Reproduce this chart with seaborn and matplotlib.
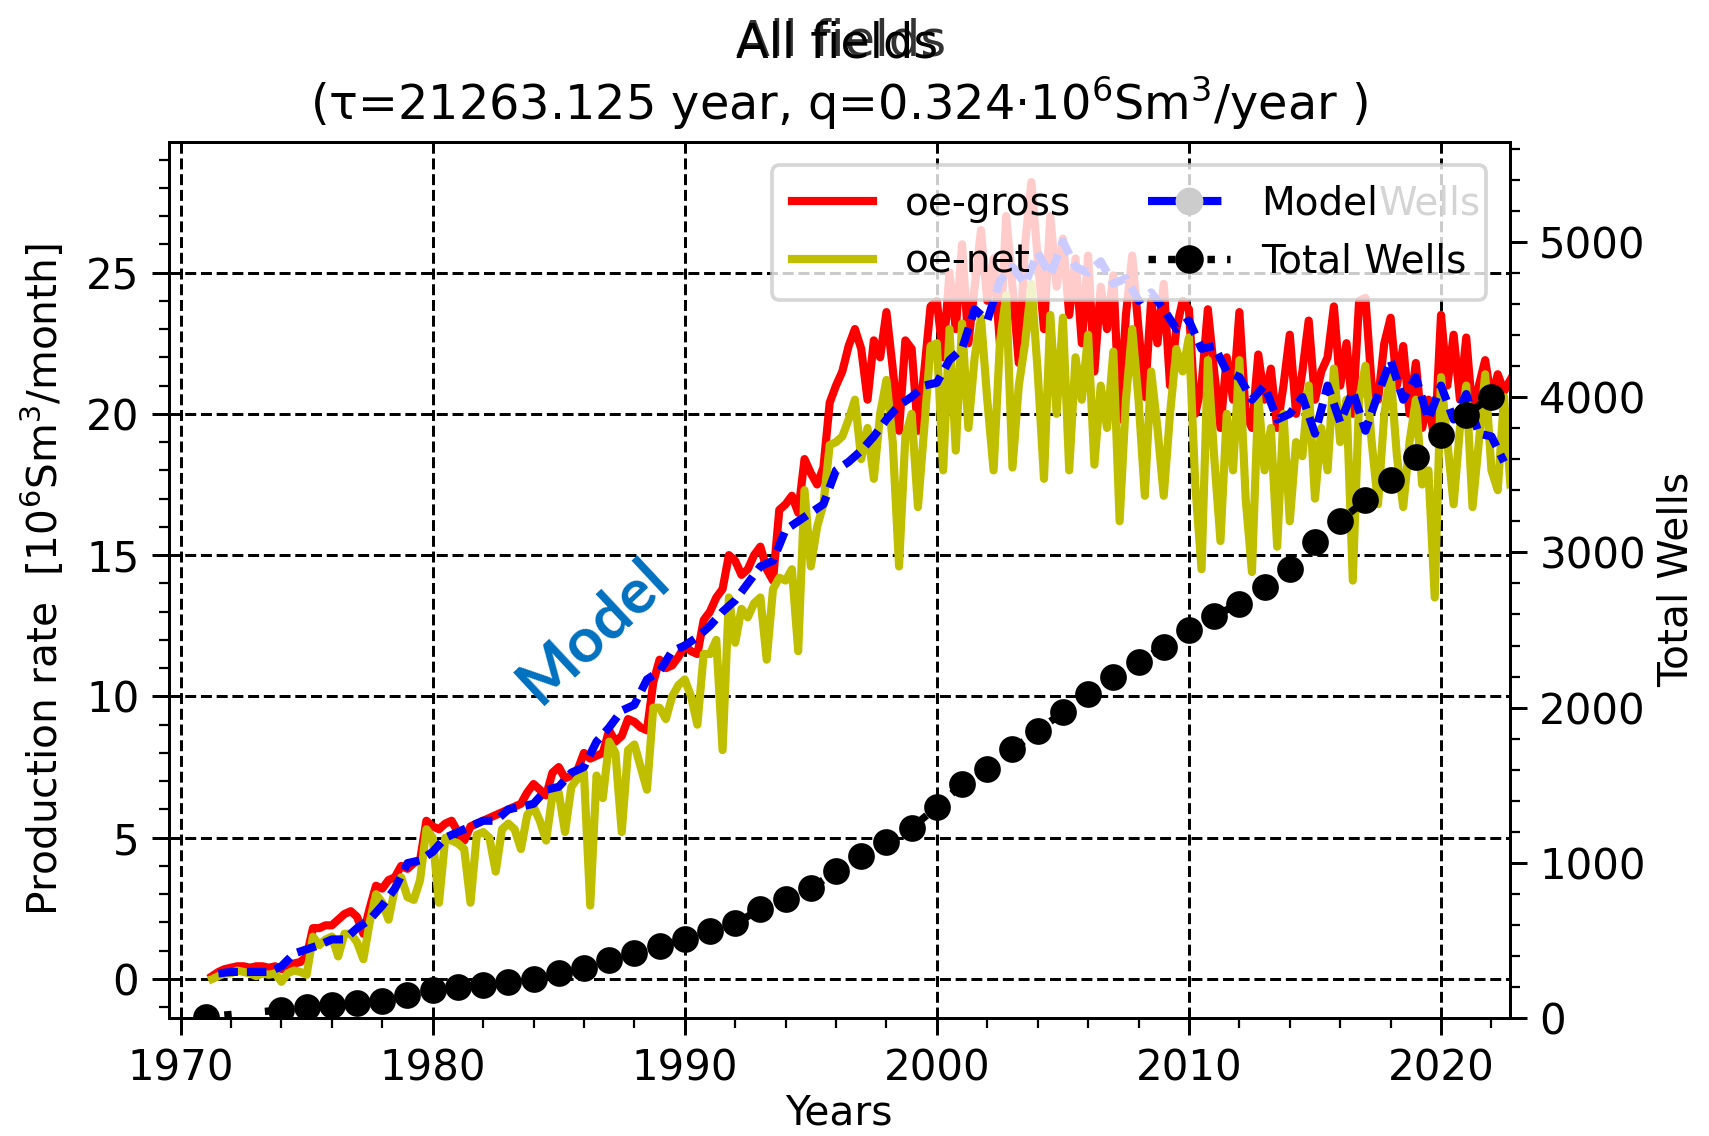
import numpy as np
import pandas as pd
import matplotlib
matplotlib.use("Agg")
import matplotlib.pyplot as plt
from matplotlib.lines import Line2D
from matplotlib.ticker import MultipleLocator
import seaborn as sns

# ---------------- data (quarterly production, 10^6 Sm3/month) ----------------
quarter_start = 1971.25
gross = [
    0.1, 0.25, 0.35,                 # 1971
    0.4, 0.45, 0.45, 0.4,            # 1972
    0.45, 0.45, 0.4, 0.45,           # 1973
    0.35, 0.5, 0.55, 0.6,            # 1974
    0.8, 1.8, 1.8, 1.9,              # 1975
    1.9, 2.1, 2.3, 2.4,              # 1976
    2.2, 1.6, 2.5, 3.3,              # 1977
    3.2, 3.5, 3.6, 4.0,              # 1978
    3.9, 4.1, 4.2, 5.6,              # 1979
    5.4, 5.3, 5.5, 5.6,              # 1980
    5.2, 4.9, 5.4, 5.5,              # 1981
    5.6, 5.7, 5.8, 5.9,              # 1982
    6.0, 6.1, 6.2, 6.6,              # 1983
    6.9, 6.7, 6.5, 7.3,              # 1984
    7.5, 7.1, 7.2, 7.4,              # 1985
    8.0, 7.8, 7.9, 8.0,              # 1986
    8.8, 8.4, 8.6, 9.2,              # 1987
    9.1, 8.9, 8.8, 10.5,             # 1988
    11.3, 11.0, 11.1, 11.4,          # 1989
    11.8, 11.6, 11.5, 12.7,          # 1990
    13.0, 13.5, 13.8, 15.0,          # 1991
    14.8, 14.3, 14.5, 15.0,          # 1992
    15.3, 14.5, 14.1, 16.6,          # 1993
    16.8, 17.1, 16.5, 18.4,          # 1994
    17.9, 17.5, 18.1, 20.4,          # 1995
    21.0, 21.5, 22.4, 23.0,          # 1996
    22.3, 20.5, 22.6, 22.0,          # 1997
    23.6, 21.6, 19.4, 22.6,          # 1998
    22.3, 19.4, 21.5, 23.8,          # 1999
    24.0, 22.0, 25.0, 23.0,          # 2000
    26.0, 22.5, 24.5, 26.5,          # 2001
    24.0, 25.5, 22.5, 27.0,          # 2002
    24.5, 21.8, 26.0, 28.2,          # 2003
    25.5, 23.0, 27.0, 24.5,          # 2004
    26.2, 23.5, 25.5, 22.5,          # 2005
    25.6, 21.5, 24.5, 23.0,          # 2006
    24.9, 19.8, 23.5, 25.6,          # 2007
    23.0, 20.6, 24.0, 22.5,          # 2008
    24.6, 21.0, 23.0, 24.0,          # 2009
    23.7, 20.0, 21.0, 23.7,          # 2010
    21.5, 19.5, 22.0, 20.5,          # 2011
    23.6, 20.0, 19.5, 22.1,          # 2012
    20.5, 21.6, 19.5, 21.0,          # 2013
    22.8, 20.0, 21.5, 23.3,          # 2014
    20.5, 21.5, 22.0, 23.8,          # 2015
    21.0, 22.5, 20.0, 24.0,          # 2016
    24.1, 21.0, 20.5, 22.5,          # 2017
    23.4, 21.0, 22.4, 20.0,          # 2018
    21.8, 19.5, 20.5, 19.0,          # 2019
    23.5, 21.0, 22.8, 20.5,          # 2020
    22.7, 20.0, 21.0, 21.9,          # 2021
    20.5, 21.4, 20.8, 21.2,          # 2022
]
net = [
    0.0, 0.1, 0.2,                   # 1971
    0.2, 0.3, 0.25, 0.2,             # 1972
    0.1, 0.2, 0.15, 0.2,             # 1973
    -0.1, 0.2, 0.3, 0.25,            # 1974
    0.15, 1.5, 1.2, 1.4,             # 1975
    1.5, 0.8, 1.6, 1.6,              # 1976
    1.3, 0.7, 2.0, 3.0,              # 1977
    2.7, 2.1, 3.2, 3.6,              # 1978
    2.9, 2.8, 3.5, 5.3,              # 1979
    5.0, 2.7, 5.0, 4.9,              # 1980
    4.8, 4.6, 2.7, 5.1,              # 1981
    5.2, 5.0, 3.8, 5.3,              # 1982
    5.5, 5.3, 4.6, 5.8,              # 1983
    6.1, 5.6, 4.9, 6.5,              # 1984
    6.6, 5.2, 6.8, 7.1,              # 1985
    7.3, 2.6, 7.2, 6.4,              # 1986
    8.4, 8.0, 5.2, 8.1,              # 1987
    8.3, 7.5, 6.7, 9.6,              # 1988
    9.6, 9.2, 10.0, 10.4,            # 1989
    10.6, 10.0, 9.0, 11.5,           # 1990
    11.5, 12.0, 8.1, 13.5,           # 1991
    11.9, 13.1, 12.8, 13.3,          # 1992
    13.5, 11.3, 13.8, 14.2,          # 1993
    14.1, 14.5, 11.6, 17.3,          # 1994
    14.6, 16.0, 16.8, 18.9,          # 1995
    19.0, 19.2, 19.8, 20.5,          # 1996
    18.4, 19.5, 17.7, 20.0,          # 1997
    21.2, 19.0, 14.6, 19.2,          # 1998
    20.0, 16.7, 19.5, 22.4,          # 1999
    22.5, 18.0, 23.0, 18.7,          # 2000
    23.2, 19.5, 22.0, 23.4,          # 2001
    20.5, 18.0, 22.5, 24.2,          # 2002
    18.1, 21.0, 22.5, 24.6,          # 2003
    21.5, 17.7, 23.5, 20.0,          # 2004
    23.4, 18.0, 22.0, 20.5,          # 2005
    22.8, 18.2, 21.0, 19.5,          # 2006
    22.2, 16.2, 20.5, 23.0,          # 2007
    20.5, 17.1, 21.5, 19.5,          # 2008
    17.1, 20.0, 22.3, 21.5,          # 2009
    22.7, 17.5, 14.5, 21.9,          # 2010
    18.5, 15.5, 20.0, 18.0,          # 2011
    21.9, 17.0, 14.4, 20.6,          # 2012
    18.0, 19.5, 15.3, 20.0,          # 2013
    16.2, 19.0, 18.5, 21.0,          # 2014
    17.0, 19.5, 18.0, 21.6,          # 2015
    19.0, 20.5, 14.1, 20.5,          # 2016
    21.7, 19.0, 16.8, 20.0,          # 2017
    21.4, 18.5, 16.7, 19.0,          # 2018
    20.5, 17.5, 18.0, 13.5,          # 2019
    21.3, 19.0, 16.8, 19.5,          # 2020
    21.0, 16.7, 19.0, 21.4,          # 2021
    18.0, 17.3, 20.6, 17.5,          # 2022
]

# model, half-yearly from 1971.5
model_start = 1971.5
model = [
    0.2,
    0.25, 0.25, 0.25, 0.25, 0.45, 0.9, 1.05, 1.2,      # 1972-1975
    1.4, 1.4, 1.8, 2.1, 2.6, 3.2, 4.1, 4.2,            # 1976-1979
    4.5, 5.0, 5.2, 5.4, 5.6, 5.6, 6.0, 6.1,            # 1980-1983
    6.2, 6.7, 6.8, 7.3, 7.5, 8.4, 8.9, 9.5,            # 1984-1987
    9.7, 10.6, 10.9, 11.6, 11.8, 12.1, 12.5, 13.0,     # 1988-1991
    13.4, 14.0, 14.6, 14.8, 15.9, 16.2, 16.5, 16.8,    # 1992-1995
    18.0, 18.3, 18.7, 19.2, 19.8, 20.3, 20.6, 21.0,    # 1996-1999
    21.1, 21.9, 22.3, 23.7, 23.3, 24.7, 25.2, 24.6,    # 2000-2003
    25.7, 24.9, 26.1, 25.2, 25.0, 25.4, 24.6, 24.8,    # 2004-2007
    24.0, 24.3, 23.7, 23.0, 23.3, 22.3, 22.4, 21.5,    # 2008-2011
    21.3, 20.5, 21.0, 19.8, 20.0, 20.6, 19.3, 21.0,    # 2012-2015
    19.7, 20.8, 19.4, 20.7, 21.9, 20.5, 21.3, 19.8,    # 2016-2019
    21.0, 19.8, 20.7, 19.3, 19.2, 18.3,                # 2020-2022
]

# total wells (right axis)
well_years = [1971, 1974, 1975, 1976, 1977, 1978, 1979, 1980, 1981, 1982,
              1983, 1984, 1985, 1986, 1987, 1988, 1989, 1990, 1991, 1992,
              1993, 1994, 1995, 1996, 1997, 1998, 1999, 2000, 2001, 2002,
              2003, 2004, 2005, 2006, 2007, 2008, 2009, 2010, 2011, 2012,
              2013, 2014, 2015, 2016, 2017, 2018, 2019, 2020, 2021, 2022]
wells = [8, 52, 69, 84, 95, 110, 148, 180, 202, 213,
         234, 250, 288, 320, 374, 420, 465, 510, 560, 610,
         700, 765, 835, 945, 1045, 1135, 1225, 1360, 1505, 1605,
         1730, 1850, 1970, 2085, 2195, 2295, 2390, 2500, 2590, 2670,
         2780, 2895, 3065, 3205, 3335, 3465, 3615, 3757, 3888, 4003]

title_main = "All fields"
title_sub = "(\u03c4=21263.125 year, q=0.324\u00b710$^6$Sm$^3$/year )"
ylabel_left = "Production rate  [10$^6$Sm$^3$/month]"
ylabel_right = "Total Wells"
xlabel = "Years"
legend_labels = ["oe-gross", "oe-net", "Model", "Total Wells"]

# ---------------- style ----------------
plt.rcParams.update({
    "font.family": ["DejaVu Sans"],
    "font.size": 10.4,
    "xtick.labelsize": 11.3, "ytick.labelsize": 11.3,
    "axes.labelsize": 11.0,
    "legend.fontsize": 10.5,
    "xtick.major.size": 4.5, "ytick.major.size": 4.5,
    "xtick.minor.size": 2.7, "ytick.minor.size": 2.7,
    "xtick.major.width": 0.8, "ytick.major.width": 0.8,
    "xtick.minor.width": 0.6, "ytick.minor.width": 0.6,
    "axes.linewidth": 0.8,
})

DPI = 267
W, H = 1709, 1136
fig = plt.figure(figsize=(W / DPI, H / DPI), dpi=DPI)
ax1 = fig.add_axes([169 / W, (H - 1018) / H, (1509.6 - 169) / W, (1018 - 141.7) / H])
ax2 = ax1.twinx()

df_q = pd.DataFrame({"year": quarter_start + 0.25 * np.arange(len(gross)),
                     "gross": gross, "net": net})
df_m = pd.DataFrame({"year": model_start + 0.5 * np.arange(len(model)), "model": model})
df_w = pd.DataFrame({"year": well_years, "wells": wells})

LW = 2.2
sns.lineplot(data=df_q, x="year", y="gross", ax=ax1, color="r", lw=LW, legend=False)
sns.lineplot(data=df_q, x="year", y="net", ax=ax1, color="y", lw=LW, legend=False)
sns.lineplot(data=df_m, x="year", y="model", ax=ax1, color="b", lw=2.2,
             linestyle=(0, (2.4, 1.1)), legend=False)
sns.lineplot(data=df_w, x="year", y="wells", ax=ax2, color="k", lw=2.0,
             linestyle=(3, (1, 4.5)),
             marker="o", markersize=6.7, markeredgecolor="k", markerfacecolor="k",
             markeredgewidth=0.5, legend=False)

ax1.set_xlim(1969.54, 2022.72)
ax1.set_ylim(-1.38, 29.63)
ax2.set_ylim(0, 5646)

ax1.xaxis.set_major_locator(MultipleLocator(10))
ax1.xaxis.set_minor_locator(MultipleLocator(2))
ax1.yaxis.set_major_locator(MultipleLocator(5))
ax1.yaxis.set_minor_locator(MultipleLocator(1))
ax2.yaxis.set_major_locator(MultipleLocator(1000))
ax2.yaxis.set_minor_locator(MultipleLocator(200))

ax1.grid(True, which="major", axis="both", ls="--", color="k", lw=0.8)

ax1.set_xlabel(xlabel, labelpad=1)
ax1.set_ylabel(ylabel_left, labelpad=5)
ax2.set_ylabel(ylabel_right, labelpad=3)
ax2.set_xlabel("")

# titles
fig.text(0.4909, 1 - 103 / H, title_sub, ha="center", va="center", fontsize=12.9)
fig.text(0.4307, 1 - 58 / H, title_main, ha="left", va="baseline", fontsize=12.9)
fig.text(0.4307, 1 - 55 / H, title_main, ha="left", va="baseline", fontsize=13.4, alpha=0.8)

# annotation
ax1.text(1986.4, 12.3, "Model", rotation=43, color="#0070C0", fontweight="bold",
         fontsize=17, family=["Lato", "DejaVu Sans"], ha="center", va="center",
         rotation_mode="anchor")

# legend
h_gross = Line2D([], [], color="r", lw=LW)
h_net = Line2D([], [], color="y", lw=LW)
h_model = Line2D([], [], color="b", lw=2.2, ls="--", marker="o", ms=6.5,
                 mfc="#cccccc", mec="#cccccc")
h_wells = Line2D([], [], color="k", lw=2.0, ls=":", marker="o", ms=6.7)
leg = ax2.legend([h_gross, h_net, h_model, h_wells], legend_labels, ncol=2,
                 loc="upper right", handlelength=2.1, columnspacing=2.0,
                 labelspacing=0.52, borderpad=0.5, framealpha=0.8,
                 borderaxespad=0.6)

fig.canvas.draw()
t = leg.get_texts()[2]
bb = t.get_window_extent()
fig.text(bb.x1 / W, bb.y0 / H, "Wells", color="#d4d4d4", fontsize=10.5,
         ha="left", va="bottom")

fig.savefig("out.png", dpi=DPI)
